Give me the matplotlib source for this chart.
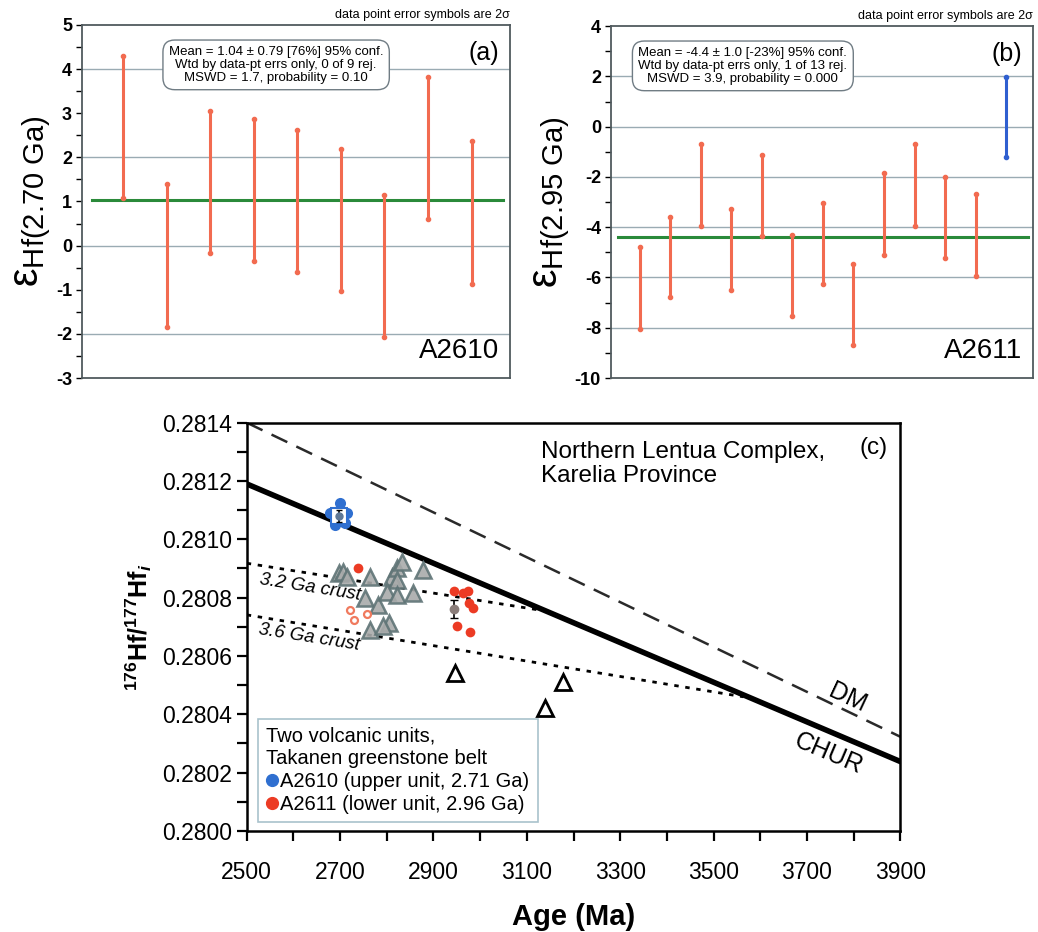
import matplotlib.pyplot as plt
from matplotlib.ticker import MultipleLocator, FormatStrFormatter
from matplotlib.lines import Line2D

plt.rcParams['font.family'] = ['Liberation Sans', 'DejaVu Sans']
plt.rcParams['axes.unicode_minus'] = False
plt.rcParams['mathtext.fontset'] = 'custom'
plt.rcParams['mathtext.rm'] = 'Liberation Sans'
plt.rcParams['mathtext.it'] = 'Liberation Sans:italic'
plt.rcParams['mathtext.bf'] = 'Liberation Sans:bold'
plt.rcParams['mathtext.bfit'] = 'Liberation Sans:bold:italic'

# panel (a): A2610, eHf(2.70 Ga), 2 sigma error bars
a_lo = [1.08, -1.85, -0.17, -0.34, -0.60, -1.02, -2.07, 0.61, -0.87]
a_hi = [4.30, 1.39, 3.04, 2.87, 2.62, 2.18, 1.15, 3.81, 2.36]
a_mean = 1.04
a_stats = ('Mean = 1.04 \u00b1 0.79 [76%] 95% conf.\n'
           'Wtd by data-pt errs only, 0 of 9 rej.\n'
           'MSWD = 1.7, probability = 0.10')

# panel (b): A2611, eHf(2.95 Ga); last one rejected
b_lo = [-8.04, -6.79, -3.97, -6.49, -4.37, -7.52, -6.26, -8.70, -5.10, -3.95, -5.23, -5.93, -1.19]
b_hi = [-4.77, -3.58, -0.69, -3.28, -1.13, -4.30, -3.05, -5.46, -1.85, -0.69, -2.01, -2.68, 1.99]
b_rej = [False] * 12 + [True]
b_mean = -4.4
b_stats = ('Mean = -4.4 \u00b1 1.0 [-23%] 95% conf.\n'
           'Wtd by data-pt errs only, 1 of 13 rej.\n'
           'MSWD = 3.9, probability = 0.000')

# panel (c): 176Hf/177Hf initial vs age
chur_age = [2500, 3900]
chur_hf = [0.28119, 0.280238]
dm_age = [2500, 3900]
dm_hf = [0.28140, 0.280323]
crust32_age = [2500, 3125]
crust32_hf = [0.280918, 0.280758]
crust36_age = [2500, 3564]
crust36_hf = [0.280741, 0.280460]

tri_age = [2698, 2706, 2714, 2764, 2754, 2782, 2811, 2822, 2832, 2822, 2800,
           2822, 2856, 2877, 2764, 2804, 2792]
tri_hf = [0.280886, 0.280888, 0.280872, 0.280872, 0.280798, 0.280775, 0.280872,
          0.280901, 0.280923, 0.280861, 0.280821, 0.280809, 0.280815, 0.280895,
          0.280689, 0.280712, 0.280703]
open_tri_age = [2946, 3139, 3177]
open_tri_hf = [0.280541, 0.280421, 0.280512]

blue_age = [2700, 2679, 2714, 2689, 2711]
blue_hf = [0.281124, 0.281089, 0.281089, 0.281049, 0.281055]
blue_mean = (2698, 0.281080, 0.000020)

red_age = [2944, 2964, 2973, 2977, 2984, 2950, 2979, 2738]
red_hf = [0.280824, 0.280817, 0.280824, 0.280783, 0.280764, 0.280703, 0.280683, 0.280903]
red_mean = (2944, 0.280760, 0.000031)
red_open_age = [2721, 2729, 2757]
red_open_hf = [0.280758, 0.280723, 0.280743]

age_ticks = [2500, 2700, 2900, 3100, 3300, 3500, 3700, 3900]

BAR = '#f26b50'
GRID = '#9aabb3'
GREEN = '#2a8a3a'

fig = plt.figure(figsize=(10.38, 9.32), dpi=100)


def weighted_panel(ax, lo, hi, mean, rej, ylim, major, minor, grid, label, stats, box_x, tag, name):
    n = len(lo)
    x = list(range(1, n + 1))
    for v in grid:
        ax.axhline(v, color=GRID, lw=1, zorder=0)
    ax.plot([0.28, n + 0.72], [mean, mean], color=GREEN, lw=2.2, zorder=2)
    for i in range(n):
        c = '#2f5fd0' if rej[i] else BAR
        ax.vlines(x[i], lo[i], hi[i], color=c, lw=2.2, zorder=3)
        ax.plot([x[i], x[i]], [lo[i], hi[i]], 'o', color=c, ms=3, zorder=3)
    ax.set_xlim(0.05, n + 0.88)
    ax.set_ylim(*ylim)
    ax.set_xticks([])
    ax.yaxis.set_major_locator(MultipleLocator(major))
    ax.yaxis.set_minor_locator(MultipleLocator(minor))
    ax.tick_params(axis='y', which='both', direction='out', length=4, width=1, labelsize=13, pad=3)
    for t in ax.get_yticklabels():
        t.set_fontweight('bold')
    for s in ax.spines.values():
        s.set_color('#505a5e')
        s.set_linewidth(1.3)
    ax.set_ylabel(label, fontsize=30, labelpad=2)
    ax.text(box_x, 0.887, stats, transform=ax.transAxes, ha='center', va='center',
            fontsize=9.5, linespacing=1.1,
            bbox=dict(boxstyle='round,pad=0.45,rounding_size=0.9', fc='white', ec='#707c84', lw=1))
    ax.text(0.975, 0.955, tag, transform=ax.transAxes, ha='right', va='top', fontsize=18)
    ax.text(0.975, 0.04, name, transform=ax.transAxes, ha='right', va='bottom', fontsize=20)
    ax.text(1.0, 1.012, 'data point error symbols are 2\u03c3', transform=ax.transAxes,
            ha='right', va='bottom', fontsize=9)


ax_a = fig.add_axes([0.0787, 0.5944, 0.4126, 0.3788])
weighted_panel(ax_a, a_lo, a_hi, a_mean, [False] * 9, (-3, 5), 1, 0.5, [-2, 0, 2, 4],
               r'$\mathrm{\varepsilon}_{\mathrm{Hf(2.70\ Ga)}}$', a_stats, 0.454, '(a)', 'A2610')

ax_b = fig.add_axes([0.5883, 0.5944, 0.4069, 0.3776])
weighted_panel(ax_b, b_lo, b_hi, b_mean, b_rej, (-10, 4), 2, 1, [-8, -6, -4, -2, 0, 2],
               r'$\mathrm{\varepsilon}_{\mathrm{Hf(2.95\ Ga)}}$', b_stats, 0.313, '(b)', 'A2611')

# panel (c)
ax = fig.add_axes([0.2377, 0.1084, 0.6297, 0.4381])
ax.plot(dm_age, dm_hf, color='#2a2a2a', lw=1.8, dashes=(7, 4))
ax.plot(chur_age, chur_hf, color='black', lw=4)
ax.plot(crust32_age, crust32_hf, color='black', lw=2, dashes=(1.6, 2.4))
ax.plot(crust36_age, crust36_hf, color='black', lw=2, dashes=(1.6, 2.4))

ax.plot(tri_age, tri_hf, '^', ms=11.5, mfc='#a9abab', mec='#5f7476', mew=1.8, alpha=0.9, zorder=4)
ax.plot(open_tri_age, open_tri_hf, '^', ms=11, mfc='white', mec='black', mew=2, zorder=4)

ax.plot(red_open_age, red_open_hf, 'o', ms=5, mfc='white', mec='#f07a5e', mew=1.6, zorder=5)
ax.plot(red_age, red_hf, 'o', ms=7, color='#ec3b24', mec='none', zorder=5)
ax.errorbar([red_mean[0]], [red_mean[1]], yerr=[red_mean[2]], fmt='o', ms=6,
            mfc='#8a7d7a', mec='#8a7d7a', ecolor='black', elinewidth=1.2, capsize=3, zorder=6)

ax.plot(blue_age, blue_hf, 'o', ms=8, color='#2f6fd0', mec='none', zorder=5)
ax.plot([blue_mean[0]], [blue_mean[1]], 's', ms=11, mfc='white', mec='#2f6fd0', mew=1.5, zorder=6)
ax.errorbar([blue_mean[0]], [blue_mean[1]], yerr=[blue_mean[2]], fmt='o', ms=5,
            mfc='#5f7896', mec='#5f7896', ecolor='black', elinewidth=1.2, capsize=2.5, zorder=7)

ax.text(2636, 0.280835, '3.2 Ga crust', fontsize=13.5, style='italic', rotation=-9,
        ha='center', va='center', rotation_mode='anchor')
ax.text(2634, 0.280664, '3.6 Ga crust', fontsize=13.5, style='italic', rotation=-9,
        ha='center', va='center', rotation_mode='anchor')
ax.text(3786, 0.280455, 'DM', fontsize=18, rotation=-25, ha='center', va='center',
        rotation_mode='anchor')
ax.text(3747, 0.280264, 'CHUR', fontsize=18, rotation=-23, ha='center', va='center',
        rotation_mode='anchor')
ax.text(0.45, 0.955, 'Northern Lentua Complex,\nKarelia Province', transform=ax.transAxes,
        ha='left', va='top', fontsize=17.5, linespacing=1.1)
ax.text(0.98, 0.965, '(c)', transform=ax.transAxes, ha='right', va='top', fontsize=17.5)

ax.set_xlim(2500, 3900)
ax.set_ylim(0.2800, 0.2814)
ax.set_xticks(age_ticks)
ax.xaxis.set_minor_locator(MultipleLocator(100))
ax.yaxis.set_major_locator(MultipleLocator(0.0002))
ax.yaxis.set_minor_locator(MultipleLocator(0.0001))
ax.yaxis.set_major_formatter(FormatStrFormatter('%.4f'))
ax.tick_params(which='both', direction='out', length=7.5, width=1.6, labelsize=16.5)
ax.tick_params(axis='x', pad=14)
ax.tick_params(axis='y', pad=3)
for s in ax.spines.values():
    s.set_linewidth(1.8)
ax.set_xlabel('Age (Ma)', fontsize=21, fontweight='bold', labelpad=14)
ax.set_ylabel(r'$\mathbf{^{176}Hf/^{177}Hf}_{\mathbfit{i}}$', fontsize=18)
ax.yaxis.set_label_coords(-0.142, 0.5)

handles = [Line2D([], [], marker='o', ls='none', color='#2f6fd0', ms=8.5),
           Line2D([], [], marker='o', ls='none', color='#ec3b24', ms=8.5)]
leg = ax.legend(handles, ['A2610 (upper unit, 2.71 Ga)', 'A2611 (lower unit, 2.96 Ga)'],
                title='Two volcanic units,\nTakanen greenstone belt', alignment='left',
                loc='lower left', bbox_to_anchor=(0.017, 0.022), fontsize=14.5, title_fontsize=14.5,
                fancybox=False, edgecolor='#a9c2cc', handlelength=0.6, handletextpad=0.12,
                borderpad=0.4, labelspacing=0.2, borderaxespad=0, framealpha=1)
leg.get_frame().set_linewidth(1.2)

fig.savefig('out.png', dpi=100)
